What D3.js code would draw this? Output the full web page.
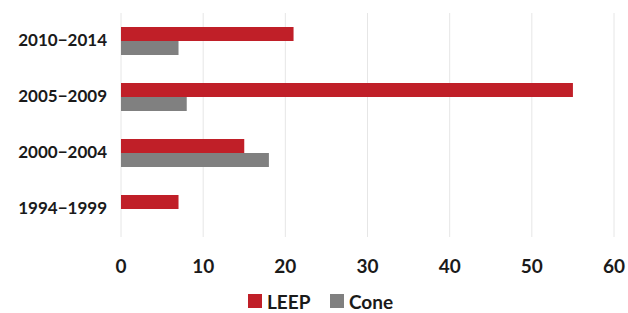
<!DOCTYPE html>
<html><head><meta charset="utf-8">
<script src="https://cdn.jsdelivr.net/npm/d3@7"></script>
<style>body{margin:0;background:#fff}svg{display:block}text{font-family:Lato,"Open Sans",sans-serif;font-weight:bold;fill:#1a1a1a}</style>
</head><body><svg id="c" width="628" height="313"></svg>
<script>
const categories = ["2010\u22122014","2005\u22122009","2000\u22122004","1994\u22121999"];
const seriesNames = ["LEEP","Cone"];
const leep = [21,55,15,7];
const cone = [7,8,18,0];
const ticks = [0,10,20,30,40,50,60];
const colors = ["#C01F28","#808080"];

const svg = d3.select("#c");
const x = d3.scaleLinear().domain([0,60]).range([121,614]);
const y = d3.scaleBand().domain(categories).range([13,237]).paddingInner(0.5).paddingOuter(0.25);
const sub = d3.scaleBand().domain(seriesNames).range([0,y.bandwidth()]);

svg.append("g").selectAll("line").data(ticks).join("line")
  .attr("x1",d=>x(d)).attr("x2",d=>x(d)).attr("y1",13).attr("y2",237)
  .attr("stroke","#e6e6e6").attr("stroke-width",1);

const data = categories.map((c,i)=>({c, vals:[leep[i],cone[i]]}));
const g = svg.append("g").selectAll("g").data(data).join("g")
  .attr("transform",d=>`translate(0,${y(d.c)})`);
g.selectAll("rect").data(d=>d.vals.map((v,j)=>({v,s:seriesNames[j],j}))).join("rect")
  .attr("x",x(0)).attr("y",d=>sub(d.s)).attr("height",sub.bandwidth())
  .attr("width",d=>x(d.v)-x(0)).attr("fill",d=>colors[d.j]);

svg.append("g").selectAll("text").data(categories).join("text")
  .attr("x",107).attr("y",d=>y(d)+y.bandwidth()/2 - 1).attr("dy","0.35em")
  .attr("text-anchor","end").attr("font-size",17).text(d=>d);

svg.append("g").selectAll("text").data(ticks).join("text")
  .attr("x",d=>x(d)).attr("y",266).attr("dy","0.35em")
  .attr("text-anchor","middle").attr("font-size",19).text(d=>d);

const lg = svg.append("g");
const lx = [248,330];
seriesNames.forEach((s,i)=>{
  lg.append("rect").attr("x",lx[i]).attr("y",294).attr("width",14).attr("height",14).attr("fill",colors[i]);
  lg.append("text").attr("x",lx[i]+19).attr("y",302).attr("dy","0.35em").attr("font-size",19).text(s);
});
</script></body></html>
